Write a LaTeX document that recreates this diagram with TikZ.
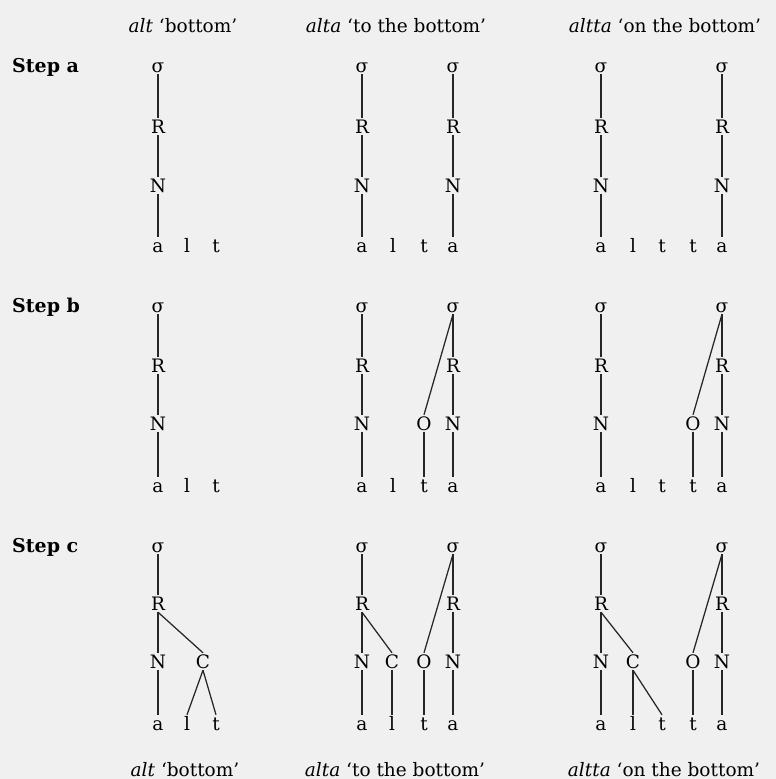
\documentclass[tikz,border=0pt]{standalone}
\usepackage{fontspec}
\setmainfont{DejaVu Serif}
\begin{document}
\begin{tikzpicture}[x=1pt,y=-1pt,
  cat/.style={font=\fontsize{18.5}{20}\selectfont, inner sep=2pt, text height=13pt, text depth=0pt, anchor=base},
  lnk/.style={line width=1.25pt, draw=black!85},
  head/.style={font=\fontsize{18.5}{22}\selectfont, anchor=base, inner sep=0pt},
  steplab/.style={font=\fontsize{19}{22}\selectfont\bfseries, anchor=base west, inner sep=0pt}]
\fill[black!6] (0,0) rectangle (776,779);
\useasboundingbox (0,0) rectangle (776,779);

% headings
\node[head] (h1) at (183,32) {\textit{alt} ‘bottom’};
\node[head] (h2) at (396,32) {\textit{alta} ‘to the bottom’};
\node[head] (h3) at (665,32) {\textit{altta} ‘on the bottom’};
\node[head] (f1) at (185,776) {\textit{alt} ‘bottom’};
\node[head] (f2) at (395,776) {\textit{alta} ‘to the bottom’};
\node[head] (f3) at (664,776) {\textit{altta} ‘on the bottom’};

% step labels
\node[steplab] (sa) at (12,72) {Step a};
\node[steplab] (sb) at (12,312) {Step b};
\node[steplab] (sc) at (12,552) {Step c};

% ---------- Step a ----------
\foreach \i/\x in {1/158,2/362,3/453,4/601,5/722} {
  \node[cat] (as\i) at (\x,72) {σ};
  \node[cat] (aR\i) at (\x,133) {R};
  \node[cat] (aN\i) at (\x,192) {N};
}
\node[cat] (a1a) at (158,252) {a};
\node[cat] (a1l) at (187,252) {l};
\node[cat] (a1t) at (216,252) {t};
\node[cat] (a2a) at (362,252) {a};
\node[cat] (a2l) at (393,252) {l};
\node[cat] (a2t) at (424,252) {t};
\node[cat] (a2b) at (453,252) {a};
\node[cat] (a3a) at (601,252) {a};
\node[cat] (a3l) at (633,252) {l};
\node[cat] (a3t) at (662,252) {t};
\node[cat] (a3u) at (693,252) {t};
\node[cat] (a3b) at (722,252) {a};
\foreach \i in {1,...,5} { \draw[lnk] (as\i) -- (aR\i) -- (aN\i); }
\draw[lnk] (aN1) -- (a1a);
\draw[lnk] (aN2) -- (a2a);
\draw[lnk] (aN3) -- (a2b);
\draw[lnk] (aN4) -- (a3a);
\draw[lnk] (aN5) -- (a3b);

% ---------- Step b ----------
\foreach \i/\x in {1/158,2/362,3/453,4/601,5/722} {
  \node[cat] (bs\i) at (\x,312) {σ};
  \node[cat] (bR\i) at (\x,372) {R};
  \node[cat] (bN\i) at (\x,430) {N};
}
\node[cat] (bO3) at (424,430) {O};
\node[cat] (bO5) at (693,430) {O};
\node[cat] (b1a) at (158,492) {a};
\node[cat] (b1l) at (187,492) {l};
\node[cat] (b1t) at (216,492) {t};
\node[cat] (b2a) at (362,492) {a};
\node[cat] (b2l) at (393,492) {l};
\node[cat] (b2t) at (424,492) {t};
\node[cat] (b2b) at (453,492) {a};
\node[cat] (b3a) at (601,492) {a};
\node[cat] (b3l) at (633,492) {l};
\node[cat] (b3t) at (662,492) {t};
\node[cat] (b3u) at (693,492) {t};
\node[cat] (b3b) at (722,492) {a};
\foreach \i in {1,...,5} { \draw[lnk] (bs\i) -- (bR\i) -- (bN\i); }
\draw[lnk] (bN1) -- (b1a);
\draw[lnk] (bN2) -- (b2a);
\draw[lnk] (bN3) -- (b2b);
\draw[lnk] (bN4) -- (b3a);
\draw[lnk] (bN5) -- (b3b);
\draw[lnk] (bs3.south) -- (bO3.north);
\draw[lnk] (bO3) -- (b2t);
\draw[lnk] (bs5.south) -- (bO5.north);
\draw[lnk] (bO5) -- (b3u);

% ---------- Step c ----------
\foreach \i/\x in {1/158,2/362,3/453,4/601,5/722} {
  \node[cat] (cs\i) at (\x,552) {σ};
  \node[cat] (cR\i) at (\x,610) {R};
  \node[cat] (cN\i) at (\x,668) {N};
}
\node[cat] (cC1) at (203,668) {C};
\node[cat] (cC2) at (392,668) {C};
\node[cat] (cO3) at (424,668) {O};
\node[cat] (cC4) at (633,668) {C};
\node[cat] (cO5) at (693,668) {O};
\node[cat] (c1a) at (158,730) {a};
\node[cat] (c1l) at (187,730) {l};
\node[cat] (c1t) at (216,730) {t};
\node[cat] (c2a) at (362,730) {a};
\node[cat] (c2l) at (392,730) {l};
\node[cat] (c2t) at (424,730) {t};
\node[cat] (c2b) at (453,730) {a};
\node[cat] (c3a) at (601,730) {a};
\node[cat] (c3l) at (633,730) {l};
\node[cat] (c3t) at (662,730) {t};
\node[cat] (c3u) at (693,730) {t};
\node[cat] (c3b) at (722,730) {a};
\foreach \i in {1,...,5} { \draw[lnk] (cs\i) -- (cR\i) -- (cN\i); }
\draw[lnk] (cN1) -- (c1a);
\draw[lnk] (cN2) -- (c2a);
\draw[lnk] (cN3) -- (c2b);
\draw[lnk] (cN4) -- (c3a);
\draw[lnk] (cN5) -- (c3b);
\draw[lnk] (cR1.south) -- (cC1.north);
\draw[lnk] (cC1.south) -- (c1l.north);
\draw[lnk] (cC1.south) -- (c1t.north);
\draw[lnk] (cR2.south) -- (cC2.north);
\draw[lnk] (cC2) -- (c2l);
\draw[lnk] (cs3.south) -- (cO3.north);
\draw[lnk] (cO3) -- (c2t);
\draw[lnk] (cR4.south) -- (cC4.north);
\draw[lnk] (cC4) -- (c3l);
\draw[lnk] (cC4.south) -- (c3t.north);
\draw[lnk] (cs5.south) -- (cO5.north);
\draw[lnk] (cO5) -- (c3u);
\end{tikzpicture}
\end{document}
